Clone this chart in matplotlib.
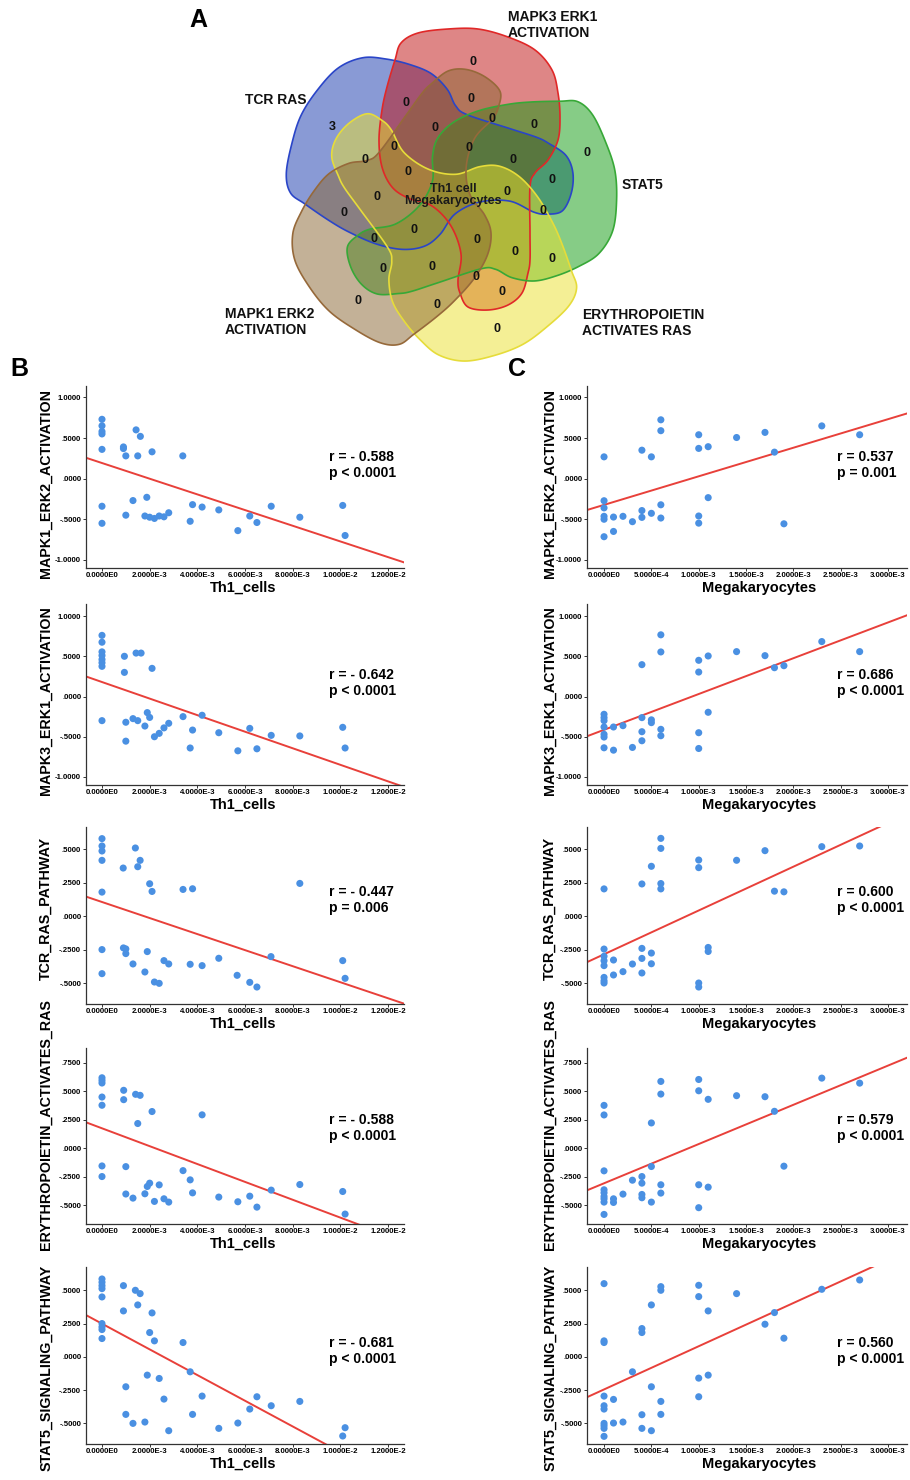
import numpy as np
import matplotlib
matplotlib.use('Agg')
import matplotlib.pyplot as plt
from matplotlib.patches import Polygon

plt.rcParams['font.family'] = ['Liberation Sans', 'DejaVu Sans']
plt.rcParams['font.weight'] = 'bold'

# ---------------- DATA ----------------
venn_sets = ['TCR RAS', 'MAPK3 ERK1\nACTIVATION', 'STAT5',
             'ERYTHROPOIETIN\nACTIVATES RAS', 'MAPK1 ERK2\nACTIVATION']
venn_center_label = 'Th1 cell\nMegakaryocytes'
venn_counts = [0, 0, 0, 0, 0, 3, 0, 0, 0, 0, 0, 0, 0, 0, 0, 0, 0, 0, 0, 0,
               0, 0, 0, 0, 0, 0, 0, 0, 0, 0]

pathways = ['MAPK1_ERK2_ACTIVATION', 'MAPK3_ERK1_ACTIVATION', 'TCR_RAS_PATHWAY',
            'ERYTHROPOIETIN_ACTIVATES_RAS', 'STAT5_SIGNALING_PATHWAY']
cell_types = ['Th1_cells', 'Megakaryocytes']

# Th1 cells (panel B)
th1_mapk1_x = [0, 0, 0, 0, 0, 0, 0, 0.0009, 0.0009, 0.001, 0.001, 0.00143, 0.00161, 0.0015, 0.0021,
               0.0013, 0.00188, 0.0018, 0.002, 0.0022, 0.0024, 0.0026, 0.0028, 0.00339, 0.0037, 0.0038,
               0.0042, 0.0049, 0.0057, 0.0062, 0.0065, 0.0071, 0.0083, 0.0101, 0.0102]
th1_mapk1_y = [0.73, 0.65, 0.58, 0.55, 0.36, -0.34, -0.55, 0.39, 0.37, 0.28, -0.45, 0.60, 0.52, 0.28, 0.33,
               -0.27, -0.23, -0.46, -0.475, -0.49, -0.46, -0.47, -0.42, 0.28, -0.525, -0.32,
               -0.35, -0.385, -0.64, -0.46, -0.54, -0.34, -0.475, -0.33, -0.70]

th1_mapk3_x = [0, 0, 0, 0, 0, 0, 0, 0, 0.00094, 0.00094, 0.001, 0.001, 0.00143, 0.00164, 0.0021, 0.0013,
               0.0015, 0.0018, 0.0019, 0.002, 0.0022, 0.0024, 0.0026, 0.0028, 0.0034, 0.0037, 0.0038,
               0.0042, 0.0049, 0.0057, 0.0062, 0.0065, 0.0071, 0.0083, 0.0101, 0.0102]
th1_mapk3_y = [0.76, 0.675, 0.555, 0.51, 0.46, 0.42, 0.375, -0.30, 0.5, 0.3, -0.32, -0.555, 0.54, 0.54, 0.35,
               -0.275, -0.30, -0.367, -0.2, -0.26, -0.5, -0.458, -0.39, -0.333, -0.25, -0.64, -0.417,
               -0.233, -0.45, -0.675, -0.396, -0.65, -0.483, -0.49, -0.383, -0.64]

th1_tcr_x = [0, 0, 0, 0, 0, 0, 0, 0.00089, 0.0014, 0.0016, 0.0015, 0.002, 0.0021, 0.0034, 0.0038, 0.0083,
             0.0009, 0.001, 0.001, 0.0013, 0.0019, 0.0018, 0.0022, 0.0024, 0.0026, 0.0028, 0.0037, 0.0042,
             0.0049, 0.00567, 0.0062, 0.0065, 0.00709, 0.0101, 0.0102]
th1_tcr_y = [0.58, 0.525, 0.4875, 0.4175, 0.18, -0.25, -0.43, 0.36, 0.51, 0.4175, 0.37, 0.2425, 0.185, 0.2,
             0.205, 0.245, -0.2375, -0.245, -0.28, -0.3575, -0.265, -0.4175, -0.4925, -0.5025, -0.3325,
             -0.3575, -0.36, -0.37, -0.315, -0.4425, -0.495, -0.53, -0.3025, -0.3325, -0.465]

th1_epo_x = [0, 0, 0, 0, 0, 0, 0, 0.00091, 0.00091, 0.001, 0.001, 0.00141, 0.0016, 0.0015, 0.0021, 0.0013,
             0.0018, 0.0019, 0.002, 0.0022, 0.0024, 0.0026, 0.0028, 0.0034, 0.0037, 0.0038, 0.0042, 0.0049,
             0.0057, 0.0062, 0.0065, 0.0071, 0.0083, 0.0101, 0.0102]
th1_epo_y = [0.619, 0.596, 0.573, 0.45, 0.378, -0.154, -0.247, 0.509, 0.427, -0.16, -0.40, 0.474, 0.465, 0.218,
             0.323, -0.436, -0.398, -0.334, -0.305, -0.465, -0.32, -0.442, -0.471, -0.195, -0.276, -0.39,
             0.294, -0.427, -0.468, -0.419, -0.515, -0.366, -0.317, -0.378, -0.576]

th1_stat5_x = [0, 0, 0, 0, 0, 0, 0, 0, 0, 0.0009, 0.0009, 0.001, 0.001, 0.0014, 0.0016, 0.0015, 0.0021,
               0.002, 0.0022, 0.0013, 0.0018, 0.0019, 0.0024, 0.0026, 0.0028, 0.0034, 0.0037, 0.0038,
               0.0042, 0.0049, 0.0057, 0.0062, 0.0065, 0.0071, 0.0083, 0.0101, 0.0102]
th1_stat5_y = [0.585, 0.56, 0.535, 0.5125, 0.45, 0.25, 0.225, 0.205, 0.1375, 0.535, 0.345, -0.225, -0.4325,
               0.5, 0.475, 0.39, 0.33, 0.1825, 0.12, -0.5, -0.49, -0.1375, -0.1625, -0.3175, -0.555,
               0.1075, -0.1125, -0.4325, -0.295, -0.5375, -0.4975, -0.3925, -0.30, -0.3675, -0.335,
               -0.595, -0.5325]

# Megakaryocytes (panel C)
mk_mapk1_x = [0, 0, 0, 0, 0, 0, 0.0001, 0.0001, 0.0002, 0.0003, 0.0004, 0.0004, 0.0004, 0.0005, 0.0005,
              0.0006, 0.0006, 0.0006, 0.0006, 0.001, 0.001, 0.001, 0.001, 0.0011, 0.0011, 0.0014, 0.0017,
              0.0018, 0.0019, 0.0023, 0.0027]
mk_mapk1_y = [0.268, -0.272, -0.36, -0.464, -0.50, -0.715, -0.473, -0.65, -0.464, -0.53, 0.35, -0.393,
              -0.477, 0.268, -0.427, 0.724, 0.59, -0.322, -0.485, 0.54, 0.372, -0.46, -0.548, 0.393,
              -0.234, 0.506, 0.569, 0.326, -0.556, 0.649, 0.54]

mk_mapk3_x = [0, 0, 0, 0, 0, 0, 0, 0.0001, 0.0001, 0.0002, 0.0003, 0.0004, 0.0004, 0.0004, 0.0004, 0.0005,
              0.0005, 0.0006, 0.0006, 0.0006, 0.0006, 0.001, 0.001, 0.001, 0.001, 0.0011, 0.0011, 0.0014,
              0.0017, 0.0018, 0.0019, 0.0023, 0.0027]
mk_mapk3_y = [-0.221, -0.2625, -0.30, -0.379, -0.47, -0.504, -0.6375, -0.379, -0.667, -0.3625, -0.633,
              0.396, -0.2625, -0.4375, -0.55, -0.29, -0.325, 0.767, 0.554, -0.408, -0.4875, 0.45, 0.304,
              -0.45, -0.646, 0.504, -0.196, 0.558, 0.508, 0.358, 0.383, 0.683, 0.558]

mk_tcr_x = [0, 0, 0, 0, 0, 0, 0, 0, 0.0001, 0.0001, 0.0002, 0.0003, 0.0004, 0.0004, 0.0004, 0.0004, 0.0005,
            0.0005, 0.0005, 0.0006, 0.0006, 0.0006, 0.0006, 0.001, 0.001, 0.001, 0.001, 0.0011, 0.0011,
            0.0014, 0.0017, 0.0018, 0.0019, 0.0023, 0.0027]
mk_tcr_y = [0.204, -0.246, -0.30, -0.333, -0.37, -0.458, -0.483, -0.50, -0.328, -0.44, -0.415, -0.358,
            0.241, -0.241, -0.316, -0.425, 0.373, -0.276, -0.356, 0.582, 0.507, 0.244, 0.204, 0.42, 0.363,
            -0.50, -0.53, -0.234, -0.264, 0.418, 0.49, 0.187, 0.182, 0.52, 0.525]

mk_epo_x = [0, 0, 0, 0, 0, 0, 0, 0, 0, 0.0001, 0.0001, 0.0002, 0.0003, 0.0004, 0.0004, 0.0004, 0.0004,
            0.0005, 0.0005, 0.0005, 0.0006, 0.0006, 0.0006, 0.0006, 0.001, 0.001, 0.001, 0.001, 0.0011,
            0.0011, 0.0014, 0.0017, 0.0018, 0.0019, 0.0023, 0.0027]
mk_epo_y = [0.377, 0.293, -0.197, -0.363, -0.389, -0.421, -0.442, -0.471, -0.579, -0.442, -0.474, -0.401,
            -0.279, -0.247, -0.305, -0.404, -0.433, 0.223, -0.159, -0.471, 0.587, 0.476, -0.319, -0.392,
            0.604, 0.505, -0.319, -0.52, 0.43, -0.34, 0.462, 0.453, 0.325, -0.156, 0.616, 0.572]

mk_stat5_x = [0, 0, 0, 0, 0, 0, 0, 0, 0, 0, 0.0001, 0.0001, 0.0002, 0.0003, 0.0004, 0.0004, 0.0004, 0.0004,
              0.0005, 0.0005, 0.0005, 0.0006, 0.0006, 0.0006, 0.0006, 0.001, 0.001, 0.001, 0.001, 0.0011,
              0.0011, 0.0014, 0.0017, 0.0018, 0.0019, 0.0023, 0.0027]
mk_stat5_y = [0.55, 0.12, 0.1075, -0.295, -0.3675, -0.3925, -0.5, -0.5175, -0.5375, -0.5975, -0.32, -0.4975,
              -0.49, -0.1125, 0.2125, 0.1825, -0.435, -0.5375, 0.39, -0.225, -0.555, 0.5275, 0.5, -0.335,
              -0.4325, 0.5375, 0.4525, -0.16, -0.30, 0.345, -0.1375, 0.475, 0.245, 0.3325, 0.14, 0.5075,
              0.5775]

# Fitted regression lines (intercept, slope)
th1_fit_intercept = [0.192, 0.180, 0.106, 0.176, 0.249]
th1_fit_slope = [-96.5, -102.9, -60.0, -78.3, -96.5]
mk_fit_intercept = [-0.323, -0.414, -0.285, -0.306, -0.245]
mk_fit_slope = [351.6, 445.0, 327.6, 344.0, 324.7]

th1_r_text = ['r = - 0.588', 'r = - 0.642', 'r = - 0.447', 'r = - 0.588', 'r = - 0.681']
th1_p_text = ['p < 0.0001', 'p < 0.0001', 'p = 0.006', 'p < 0.0001', 'p < 0.0001']
mk_r_text = ['r = 0.537', 'r = 0.686', 'r = 0.600', 'r = 0.579', 'r = 0.560']
mk_p_text = ['p = 0.001', 'p < 0.0001', 'p < 0.0001', 'p < 0.0001', 'p < 0.0001']

th1_xs = [th1_mapk1_x, th1_mapk3_x, th1_tcr_x, th1_epo_x, th1_stat5_x]
th1_ys = [th1_mapk1_y, th1_mapk3_y, th1_tcr_y, th1_epo_y, th1_stat5_y]
mk_xs = [mk_mapk1_x, mk_mapk3_x, mk_tcr_x, mk_epo_x, mk_stat5_x]
mk_ys = [mk_mapk1_y, mk_mapk3_y, mk_tcr_y, mk_epo_y, mk_stat5_y]

# ---------------- LAYOUT / STYLE ----------------
W, H = 910, 1480
fig = plt.figure(figsize=(W / 100, H / 100), dpi=100)


def fx(px):
    return px / W


def fy(py):
    return 1 - py / H


# ----- Venn (panel A) -----
axv = fig.add_axes([0, fy(370), 1, 370 / H])
axv.set_xlim(0, W)
axv.set_ylim(370, 0)
axv.axis('off')

venn_cx, venn_cy = 449, 194
shape_pts = [(-48, 151), (-31, 161), (-1, 165), (29, 165), (59, 157), (86, 144), (103, 124), (109, 101),
             (111, 77), (109, 54), (99, 34), (86, 21), (81, 7), (81, -39), (81, -66), (79, -79), (73, -99),
             (59, -111), (39, -116), (19, -113), (11, -99), (9, -86), (12, -60), (2, -32), (-17, -12),
             (-41, -4), (-57, 7), (-67, 27), (-70, 54), (-67, 84), (-62, 107), (-54, 134)]


def catmull_rom_closed(pts, n=16):
    pts = np.asarray(pts, float)
    N = len(pts)
    out = []
    t = np.linspace(0, 1, n, endpoint=False)[:, None]
    for i in range(N):
        p0, p1, p2, p3 = pts[(i - 1) % N], pts[i], pts[(i + 1) % N], pts[(i + 2) % N]
        a = 2 * p1
        b = p2 - p0
        c = 2 * p0 - 5 * p1 + 4 * p2 - p3
        d = -p0 + 3 * p1 - 3 * p2 + p3
        out.append(0.5 * (a + b * t + c * t ** 2 + d * t ** 3))
    return np.vstack(out)


base = catmull_rom_closed(shape_pts)
# set order: TCR RAS (blue), MAPK3 (red), STAT5 (green), EPO (yellow), MAPK1 (brown)
rot_deg = [72, 0, -72, -144, -216]
fills = ['#1537ad', '#bf0f0f', '#0f9b0f', '#ebe12d', '#896531']
edges = ['#2a45c8', '#e02828', '#37a837', '#e6dc3a', '#96693a']
for k in range(5):
    th = np.deg2rad(rot_deg[k])
    R = np.array([[np.cos(th), -np.sin(th)], [np.sin(th), np.cos(th)]])
    p = base @ R.T
    xy = np.column_stack([venn_cx + p[:, 0], venn_cy - p[:, 1]])
    axv.add_patch(Polygon(xy, closed=True, facecolor=fills[k], alpha=0.5, edgecolor='none', zorder=2))
    axv.add_patch(Polygon(xy, closed=True, facecolor='none', edgecolor=edges[k], lw=1.2, zorder=3))

count_pos = [(473, 62), (406, 103), (471, 99), (492, 119), (534, 125), (332, 127), (435, 128), (394, 147),
             (365, 160), (469, 148), (513, 160), (587, 153), (408, 172), (552, 180), (377, 197), (507, 192),
             (344, 213), (543, 211), (414, 230), (374, 239), (477, 240), (515, 252), (552, 259), (383, 269),
             (432, 267), (476, 277), (502, 292), (358, 301), (437, 305), (497, 329)]
for (px, py), c in zip(count_pos, venn_counts):
    axv.text(px, py, str(c), ha='center', va='center', fontsize=9, fontweight='bold',
             color='#111111', zorder=4)
axv.text(453, 195, venn_center_label, ha='center', va='center', fontsize=9, fontweight='bold',
         color='#1a1a1a', linespacing=1.1, zorder=4)

set_label_pos = [(245, 100, 'left'), (508, 25, 'left'), (622, 185, 'left'), (582, 323, 'left'),
                 (225, 322, 'left')]
for (px, py, ha), lab in zip(set_label_pos, venn_sets):
    axv.text(px, py, lab, ha=ha, va='center', fontsize=10, fontweight='bold', color='#111111',
             linespacing=1.15, zorder=4)

fig.text(fx(198), fy(20), 'A', ha='center', va='center', fontsize=18, fontweight='bold')
fig.text(fx(19), fy(369), 'B', ha='center', va='center', fontsize=18, fontweight='bold')
fig.text(fx(517), fy(369), 'C', ha='center', va='center', fontsize=18, fontweight='bold')

# ----- scatter panels -----
row_bottom = [568, 785, 1004, 1224, 1444]
row_top = [386, 604, 827, 1048, 1267]
ylims = [(-1.1, 1.14), (-1.1, 1.15), (-0.657, 0.667), (-0.663, 0.88), (-0.655, 0.675)]
yticks = [[-1, -0.5, 0, 0.5, 1], [-1, -0.5, 0, 0.5, 1], [-0.5, -0.25, 0, 0.25, 0.5],
          [-0.5, -0.25, 0, 0.25, 0.5, 0.75], [-0.5, -0.25, 0, 0.25, 0.5]]
ylab_yc = [0.467, 0.464, 0.54, 0.565, 0.43]
text_mid = [465, 683, 900, 1128, 1351]

cols = [
    dict(left=86, right=404, xlim=(-0.000671, 0.012671), xticks=np.arange(0, 0.01201, 0.002),
         xs=th1_xs, ys=th1_ys, b=th1_fit_intercept, m=th1_fit_slope, r=th1_r_text, p=th1_p_text,
         xlabel=cell_types[0], text_x=329, ylab_x=46, xlab_xc=0.495),
    dict(left=587, right=907, xlim=(-0.00018, 0.0032), xticks=np.arange(0, 0.00301, 0.0005),
         xs=mk_xs, ys=mk_ys, b=mk_fit_intercept, m=mk_fit_slope, r=mk_r_text, p=mk_p_text,
         xlabel=cell_types[1], text_x=837, ylab_x=550, xlab_xc=0.5375),
]


def fmt_y(v):
    s = f'{v:.4f}'
    if s.startswith('0.'):
        s = s[1:]
    elif s.startswith('-0.'):
        s = '-' + s[2:]
    return s


def fmt_x(v):
    if abs(v) < 1e-12:
        return '0.0000E0'
    e = int(np.floor(np.log10(abs(v)) + 1e-9))
    mnt = v / 10 ** e
    return f'{mnt:.4f}E{e}'


dot_color = '#4a90e2'
line_color = '#e8403a'

for c in cols:
    for i in range(5):
        l, r_ = c['left'], c['right']
        b_, t_ = row_bottom[i], row_top[i]
        ax = fig.add_axes([fx(l), fy(b_), (r_ - l) / W, (b_ - t_) / H])
        ax.scatter(c['xs'][i], c['ys'][i], s=26, color=dot_color, edgecolors='none', zorder=3)
        xx = np.linspace(c['xlim'][0], c['xlim'][1], 50)
        ax.plot(xx, c['b'][i] + c['m'][i] * xx, color=line_color, lw=1.4, zorder=2)
        ax.set_xlim(*c['xlim'])
        ax.set_ylim(*ylims[i])
        ax.set_xticks(c['xticks'])
        ax.set_xticklabels([fmt_x(v) for v in c['xticks']])
        ax.set_yticks(yticks[i])
        ax.set_yticklabels([fmt_y(v) for v in yticks[i]])
        for sp in ['top', 'right']:
            ax.spines[sp].set_visible(False)
        for sp in ['left', 'bottom']:
            ax.spines[sp].set_linewidth(0.9)
            ax.spines[sp].set_color('#333333')
        ax.tick_params(axis='both', labelsize=5.6, width=0.7, color='#333333', direction='out')
        ax.tick_params(axis='x', length=1.8, pad=0.8)
        ax.tick_params(axis='y', length=2.5, pad=1.0)
        for lab in ax.get_xticklabels() + ax.get_yticklabels():
            lab.set_fontweight('bold')
        ax.set_facecolor('none')
        ax.set_xlabel(c['xlabel'], fontsize=10.5, fontweight='bold')
        ax.xaxis.set_label_coords(c['xlab_xc'], -20 / (b_ - t_))
        ax.xaxis.label.set_va('center')
        ax.set_ylabel(pathways[i], fontsize=10.3, fontweight='bold')
        ax.yaxis.set_label_coords((c['ylab_x'] - l) / (r_ - l), ylab_yc[i])
        ax.yaxis.label.set_va('center')
        fig.text(fx(c['text_x']), fy(text_mid[i]), c['r'][i] + '\n' + c['p'][i], ha='left',
                 va='center', fontsize=10, fontweight='bold', linespacing=1.15)

fig.savefig('out.png', dpi=100)
